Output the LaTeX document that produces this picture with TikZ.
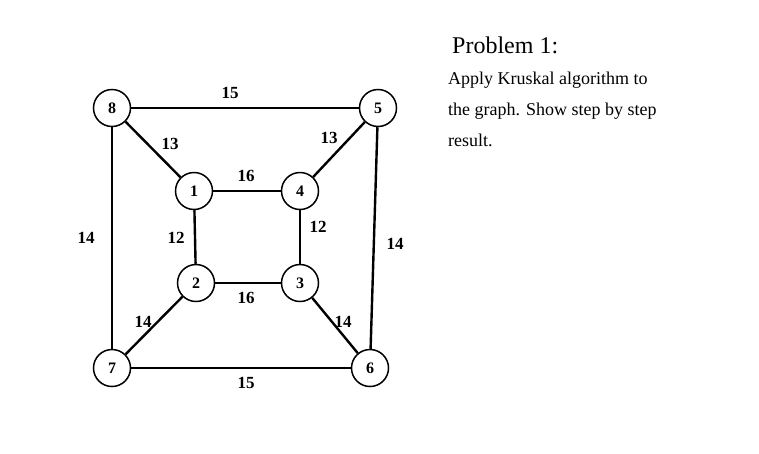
\documentclass[tikz,border=0pt]{standalone}
\usepackage{fontspec}
\setmainfont{Liberation Serif}
\begin{document}
\begin{tikzpicture}[x=1pt,y=-1pt,
  vert/.style={circle,draw,line width=1.5pt,minimum size=37pt,inner sep=0pt,font=\fontsize{16}{16}\selectfont\bfseries},
  edge/.style={line width=2.4pt},
  wt/.style={font=\fontsize{17}{17}\selectfont\bfseries,inner sep=1pt}]
\useasboundingbox (0,0) rectangle (759,453);
\node[vert] (n8) at (112,108) {8};
\node[vert] (n5) at (378,108) {5};
\node[vert] (n1) at (194,191) {1};
\node[vert] (n4) at (300,191) {4};
\node[vert] (n2) at (196,283) {2};
\node[vert] (n3) at (300,283) {3};
\node[vert] (n7) at (112,368) {7};
\node[vert] (n6) at (370,368) {6};
\draw[edge] (n8)--(n5); \draw[edge] (n8)--(n1); \draw[edge] (n5)--(n4);
\draw[edge] (n1)--(n4); \draw[edge] (n1)--(n2); \draw[edge] (n4)--(n3);
\draw[edge] (n2)--(n3); \draw[edge] (n8)--(n7); \draw[edge] (n5)--(n6);
\draw[edge] (n2)--(n7); \draw[edge] (n3)--(n6); \draw[edge] (n7)--(n6);
\node[wt] (w1) at (230,93) {15};
\node[wt] (w2) at (170,144) {13};
\node[wt] (w3) at (329,138) {13};
\node[wt] (w4) at (246,176) {16};
\node[wt] (w5) at (176,238) {12};
\node[wt] (w6) at (318,227) {12};
\node[wt] (w7) at (86,238) {14};
\node[wt] (w8) at (395,244) {14};
\node[wt] (w9) at (246,298) {16};
\node[wt] (w10) at (143,322) {14};
\node[wt] (w11) at (343,322) {14};
\node[wt] (w12) at (246,383) {15};
\node[anchor=base west,font=\fontsize{24}{24}\selectfont,inner sep=0pt] (title) at (452,53) {Problem 1:};
\node[anchor=north west,font=\fontsize{18}{31}\selectfont,inner sep=0pt,align=left] (body) at (448,72) {Apply Kruskal algorithm to\\the graph. Show step by step\\result.};
\end{tikzpicture}
\end{document}
